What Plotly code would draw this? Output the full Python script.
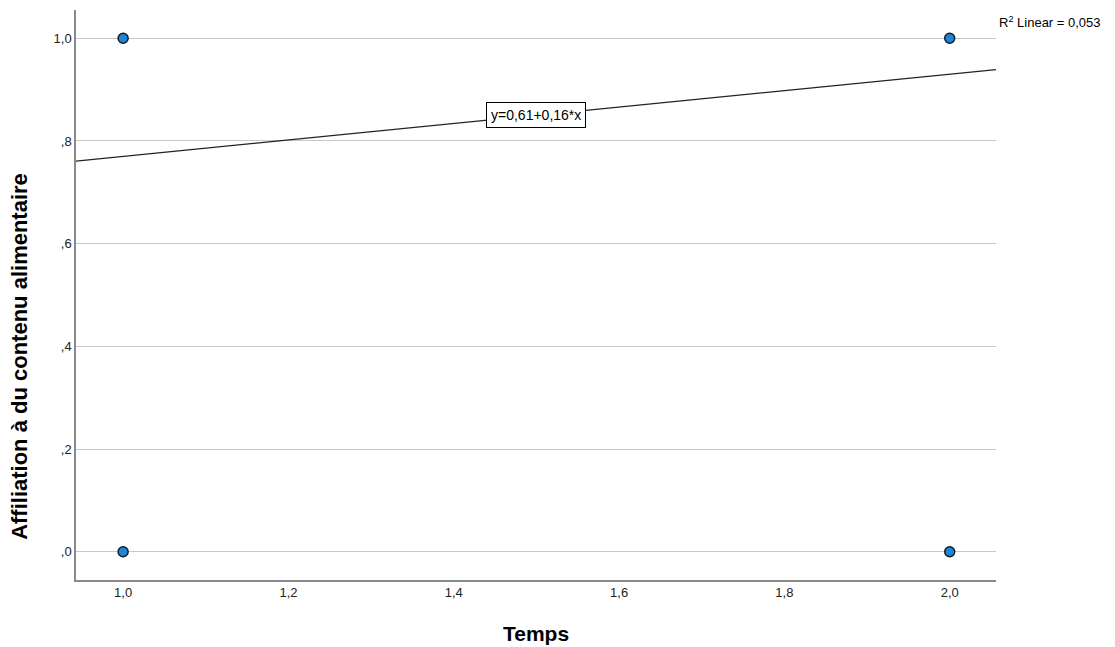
import plotly.graph_objects as go

# Observations
temps = [1.0, 1.0, 2.0, 2.0]
affiliation = [0.0, 1.0, 0.0, 1.0]

# Linear fit
intercept = 0.61
slope = 0.16
r2 = "0,053"

x_ticks = [1.0, 1.2, 1.4, 1.6, 1.8, 2.0]
x_ticklabels = ["1,0", "1,2", "1,4", "1,6", "1,8", "2,0"]
y_ticks = [0.0, 0.2, 0.4, 0.6, 0.8, 1.0]
y_ticklabels = [",0", ",2", ",4", ",6", ",8", "1,0"]

x_range = [0.943, 2.056]
y_range = [-0.055, 1.055]

FONT = "Liberation Sans, Arial, sans-serif"

fig = go.Figure()

fit_x = x_range
fit_y = [intercept + slope * v for v in fit_x]
fig.add_trace(go.Scatter(
    x=fit_x, y=fit_y, mode="lines",
    line=dict(color="#222222", width=1.2),
    hoverinfo="skip", showlegend=False,
))

fig.add_trace(go.Scatter(
    x=temps, y=affiliation, mode="markers",
    marker=dict(size=10, color="#1a86dc", line=dict(color="#1a1a1a", width=1.5)),
    showlegend=False, cliponaxis=False,
))

label_x = 1.5
fig.add_annotation(
    x=label_x, y=intercept + slope * label_x, xref="x", yref="y",
    text="y=0,61+0,16*x", showarrow=False,
    font=dict(family=FONT, size=14, color="#000000"),
    bgcolor="#ffffff", bordercolor="#000000", borderwidth=1, borderpad=4,
)

fig.add_annotation(
    x=1.0, y=1.0, xref="paper", yref="paper",
    xanchor="left", yanchor="middle", xshift=1, yshift=-12,
    text="R<sup>2</sup> Linear = " + r2, showarrow=False,
    font=dict(family=FONT, size=13, color="#000000"),
)

fig.add_annotation(
    x=-0.061, y=0.393, xref="paper", yref="paper",
    xanchor="center", yanchor="middle",
    text="<b>Affiliation à du contenu alimentaire</b>", textangle=-90,
    showarrow=False, font=dict(family=FONT, size=22, color="#000000"),
)

fig.add_annotation(
    x=0.5, y=-0.093, xref="paper", yref="paper",
    xanchor="center", yanchor="middle",
    text="<b>Temps</b>", showarrow=False,
    font=dict(family=FONT, size=21, color="#000000"),
)

fig.update_layout(
    width=1115, height=647,
    margin=dict(l=76, r=119, t=10, b=67),
    paper_bgcolor="#ffffff", plot_bgcolor="#ffffff",
    font=dict(family=FONT, size=13, color="#222222"),
    xaxis=dict(
        range=x_range, tickvals=x_ticks, ticktext=x_ticklabels,
        showgrid=False, zeroline=False, showline=True,
        linecolor="#8a8a8a", linewidth=1.5, ticks="", ticklen=0,
    ),
    yaxis=dict(
        range=y_range, tickvals=y_ticks, ticktext=y_ticklabels,
        showgrid=True, gridcolor="#c8c8c8", gridwidth=1.2,
        zeroline=False, showline=True,
        linecolor="#8a8a8a", linewidth=1.5, ticks="", ticklen=0,
    ),
)

fig.write_html("out.html")
